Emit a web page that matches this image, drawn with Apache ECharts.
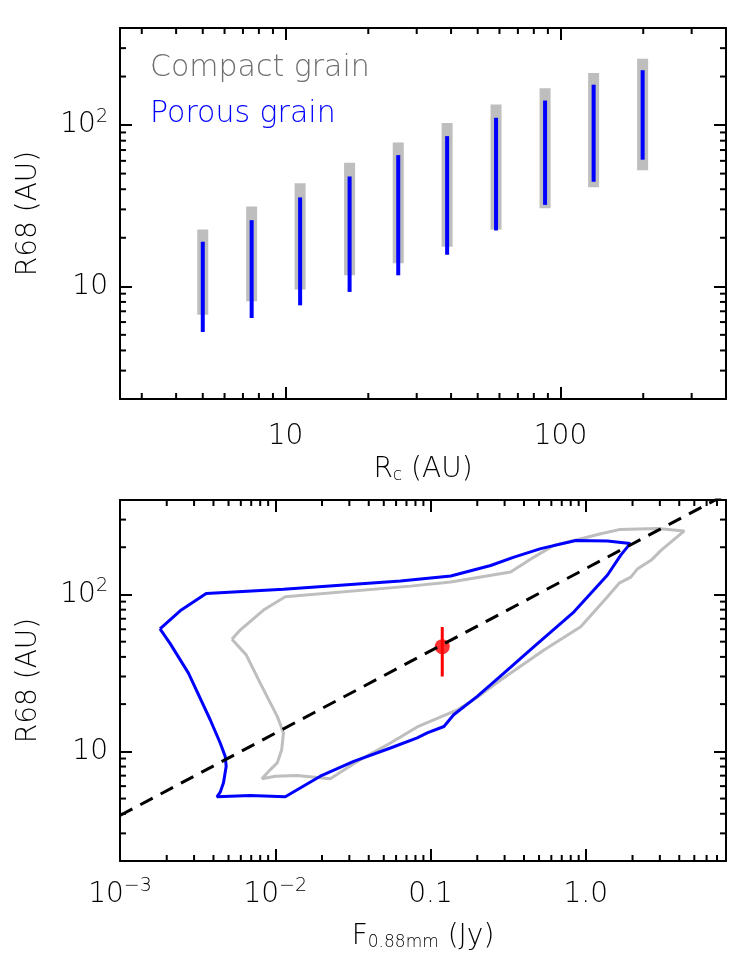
<!DOCTYPE html>
<html>
<head>
<meta charset="utf-8">
<script src="https://cdn.jsdelivr.net/npm/echarts@6/dist/echarts.min.js"></script>
<style>
html, body { margin: 0; padding: 0; background: #fff; }
#chart { width: 747px; height: 963px; }
</style>
</head>
<body>
<div id="chart"></div>
<script>
// top panel: R68 spread for each characteristic radius Rc (AU)
const rc = [5.0, 7.53, 11.3, 17.1, 25.7, 38.7, 58.3, 87.9, 132, 199];
const compactLow = [6.67, 8.07, 9.54, 11.7, 13.9, 17.6, 22.5, 30.5, 41.2, 52.5];
const compactHigh = [22.5, 31.3, 43.5, 58.4, 78.1, 103, 134, 169, 210, 258];
const porousLow = [5.21, 6.36, 7.62, 9.23, 11.7, 15.7, 22.2, 32.0, 44.5, 61.0];
const porousHigh = [18.9, 25.7, 35.6, 48.0, 65.1, 85.4, 111, 142, 178, 219];

// bottom panel: contours [F0.88mm (Jy), R68 (AU)]
const porousContour = [
  [0.00181, 60.4], [0.00244, 78.6], [0.00359, 101.5], [0.0113, 108], [0.064, 122],
  [0.135, 131], [0.244, 153], [0.345, 173], [0.513, 196], [0.862, 221], [1.38, 219],
  [1.93, 211], [1.68, 178], [1.38, 133], [0.840, 77.5], [0.464, 46.5], [0.297, 31.5],
  [0.200, 22.4], [0.141, 17.1], [0.122, 14.4], [0.0952, 13.1], [0.0821, 12.2],
  [0.0552, 10.5], [0.032, 8.64], [0.0195, 6.94], [0.0116, 5.13], [0.0069, 5.23],
  [0.00421, 5.13], [0.00442, 5.49], [0.00464, 6.30], [0.00483, 8.03], [0.00476, 9.29],
  [0.00442, 11.3], [0.00381, 15.9], [0.00276, 31.5], [0.0021, 48.8], [0.00181, 60.4]
];
const compactContour = [
  [0.00526, 51.8], [0.00594, 59.3], [0.0084, 79.5], [0.0116, 96.6], [0.0743, 113],
  [0.135, 120], [0.328, 139], [0.464, 173], [0.625, 206], [0.840, 221], [1.25, 244],
  [1.64, 259], [2.90, 263], [4.31, 254], [3.05, 191], [2.63, 165], [2.16, 146],
  [1.95, 129], [1.64, 118], [1.38, 96.6], [0.928, 62.3], [0.538, 44.3], [0.283, 28.5],
  [0.190, 21.3], [0.149, 18.4], [0.0821, 14.3], [0.0552, 11.3], [0.0353, 8.86],
  [0.0226, 6.68], [0.0138, 7.01], [0.010, 6.94], [0.0082, 6.68], [0.0093, 7.65],
  [0.0103, 8.44], [0.0110, 10.25], [0.0113, 13.1], [0.0103, 16.7], [0.0080, 27.2],
  [0.0065, 41.2], [0.00526, 51.8]
];
const relationLine = [[0.001, 3.9], [8, 435]];
const obsPoint = [0.119, 46.5];
const obsError = [[0.119, 30], [0.119, 62]];

// ticks and labels
const topXMinor = [3, 4, 5, 6, 7, 8, 9, 20, 30, 40, 50, 60, 70, 80, 90, 200, 300];
const yMinor = [3, 4, 5, 6, 7, 8, 9, 20, 30, 40, 50, 60, 70, 80, 90, 200, 300];
const botXMinor = [0.002, 0.003, 0.004, 0.005, 0.006, 0.007, 0.008, 0.009,
  0.02, 0.03, 0.04, 0.05, 0.06, 0.07, 0.08, 0.09,
  0.2, 0.3, 0.4, 0.5, 0.6, 0.7, 0.8, 0.9, 2, 3, 4, 5, 6, 7];
const yTickLabels = {1: '10', 2: '10{sup|2}'};
const topXTickLabels = {1: '10', 2: '100'};
const botXTickLabels = {'-3': '10{sup|−3}', '-2': '10{sup|−2}', '-1': '0.1', '0': '1.0'};

const FONT = 'DejaVu Sans';
const FW = 200;

function decadeLabel(table) {
  return function (v) {
    const e = Math.log10(v);
    const r = Math.round(e);
    if (Math.abs(e - r) > 0.01) return '';
    return table[r] || '';
  };
}

function tickLabel(table, margin, showMin) {
  return {
    show: true, formatter: decadeLabel(table), margin: margin,
    color: '#000', fontFamily: FONT, fontWeight: FW, fontSize: 28, lineHeight: 36,
    showMinLabel: showMin, showMaxLabel: false,
    rich: {
      sup: {fontFamily: FONT, fontWeight: FW, fontSize: 19, color: '#000', lineHeight: 14, verticalAlign: 'top'}
    }
  };
}

function logAxis(grid, min, max, pos, extra) {
  return Object.assign({
    gridIndex: grid, type: 'log', logBase: 10, min: min, max: max, position: pos,
    axisLine: {show: true, onZero: false, lineStyle: {color: '#000', width: 2}},
    axisTick: {show: true, inside: true, length: 12, lineStyle: {color: '#000', width: 2}},
    minorTick: {show: false},
    splitLine: {show: false},
    axisLabel: {show: false}
  }, extra || {});
}

function rangeBars(low, high, width, color) {
  return {
    type: 'custom', xAxisIndex: 0, yAxisIndex: 0, silent: true,
    data: rc.map((x, i) => [x, low[i], high[i]]),
    encode: {x: 0, y: [1, 2]},
    renderItem: function (params, api) {
      const p0 = api.coord([api.value(0), api.value(1)]);
      const p1 = api.coord([api.value(0), api.value(2)]);
      return {
        type: 'rect',
        shape: {x: p0[0] - width / 2, y: p1[1], width: width, height: p0[1] - p1[1]},
        style: {fill: color}
      };
    }
  };
}

function minorTicks(axisIdx, xVals, yVals, xMin, yMin) {
  const data = xVals.map(v => [v, yMin, 0]).concat(yVals.map(v => [xMin, v, 1]));
  return {
    type: 'custom', xAxisIndex: axisIdx, yAxisIndex: axisIdx, silent: true, z: 5, clip: false,
    data: data, encode: {x: 0, y: 1},
    renderItem: function (params, api) {
      const cs = params.coordSys;
      const p = api.coord([api.value(0), api.value(1)]);
      const st = {stroke: '#000', lineWidth: 2};
      const L = 6;
      if (api.value(2) === 0) {
        return {type: 'group', children: [
          {type: 'line', shape: {x1: p[0], y1: cs.y + cs.height, x2: p[0], y2: cs.y + cs.height - L}, style: st},
          {type: 'line', shape: {x1: p[0], y1: cs.y, x2: p[0], y2: cs.y + L}, style: st}
        ]};
      }
      return {type: 'group', children: [
        {type: 'line', shape: {x1: cs.x, y1: p[1], x2: cs.x + L, y2: p[1]}, style: st},
        {type: 'line', shape: {x1: cs.x + cs.width, y1: p[1], x2: cs.x + cs.width - L, y2: p[1]}, style: st}
      ]};
    }
  };
}

const nameStyle = {
  color: '#000', fontFamily: FONT, fontWeight: FW, fontSize: 28,
  rich: {
    b: {fontFamily: FONT, fontWeight: FW, fontSize: 28, color: '#000', verticalAlign: 'middle'},
    s: {fontFamily: FONT, fontWeight: FW, fontSize: 17, color: '#000', verticalAlign: 'bottom', lineHeight: 10}
  }
};
const yNameStyle = {color: '#000', fontFamily: FONT, fontWeight: FW, fontSize: 28};

const chart = echarts.init(document.getElementById('chart'), null, {renderer: 'canvas'});

chart.setOption({
  animation: false,
  backgroundColor: '#fff',
  grid: [
    {left: 120, top: 28, width: 606, height: 371, containLabel: false, outerBoundsMode: 'none'},
    {left: 120, top: 500, width: 606, height: 361, containLabel: false, outerBoundsMode: 'none'}
  ],
  xAxis: [
    logAxis(0, 2.5, 400, 'bottom', {
      name: '{b|R}{s|c}{b| (AU)}', nameLocation: 'middle', nameGap: 56, nameTextStyle: nameStyle,
      axisLabel: tickLabel(topXTickLabels, 20, false)
    }),
    logAxis(0, 2.5, 400, 'top'),
    logAxis(1, 0.001, 8, 'bottom', {
      name: '{b|F}{s|0.88mm}{b| (Jy)}', nameLocation: 'middle', nameGap: 62, nameTextStyle: nameStyle,
      axisLabel: tickLabel(botXTickLabels, 16, true)
    }),
    logAxis(1, 0.001, 8, 'top')
  ],
  yAxis: [
    logAxis(0, 2, 400, 'left', {
      name: 'R68 (AU)', nameLocation: 'middle', nameGap: 77, nameRotate: 90, nameTextStyle: yNameStyle,
      axisLabel: tickLabel(yTickLabels, 12, false)
    }),
    logAxis(0, 2, 400, 'right'),
    logAxis(1, 2, 400, 'left', {
      name: 'R68 (AU)', nameLocation: 'middle', nameGap: 77, nameRotate: 90, nameTextStyle: yNameStyle,
      axisLabel: tickLabel(yTickLabels, 12, false)
    }),
    logAxis(1, 2, 400, 'right')
  ],
  graphic: [
    {type: 'text', left: 150, top: 53, silent: true,
      style: {text: 'Compact grain', fill: '#6e6e6e', fontFamily: FONT, fontWeight: FW, fontSize: 30}},
    {type: 'text', left: 150, top: 99, silent: true,
      style: {text: 'Porous grain', fill: '#0000ff', fontFamily: FONT, fontWeight: FW, fontSize: 30}}
  ],
  series: [
    rangeBars(compactLow, compactHigh, 11, '#bebebe'),
    rangeBars(porousLow, porousHigh, 4, '#0000ff'),
    minorTicks(0, topXMinor, yMinor, 2.5, 2),
    {
      type: 'line', xAxisIndex: 2, yAxisIndex: 2, data: compactContour, showSymbol: false,
      silent: true, lineStyle: {color: '#bebebe', width: 3}
    },
    {
      type: 'line', xAxisIndex: 2, yAxisIndex: 2, data: porousContour, showSymbol: false,
      silent: true, lineStyle: {color: '#0000ff', width: 3}
    },
    {
      type: 'line', xAxisIndex: 2, yAxisIndex: 2, data: relationLine, showSymbol: false,
      silent: true, clip: true, lineStyle: {color: '#000', width: 3, type: [14, 9]}
    },
    {
      type: 'line', xAxisIndex: 2, yAxisIndex: 2, data: obsError, showSymbol: false,
      silent: true, lineStyle: {color: '#ff0000', width: 3}
    },
    {
      type: 'scatter', xAxisIndex: 2, yAxisIndex: 2, data: [obsPoint], symbol: 'circle',
      symbolSize: 15, silent: true, itemStyle: {color: '#ff0000'}
    },
    minorTicks(2, botXMinor, yMinor, 0.001, 2)
  ]
});
</script>
</body>
</html>
